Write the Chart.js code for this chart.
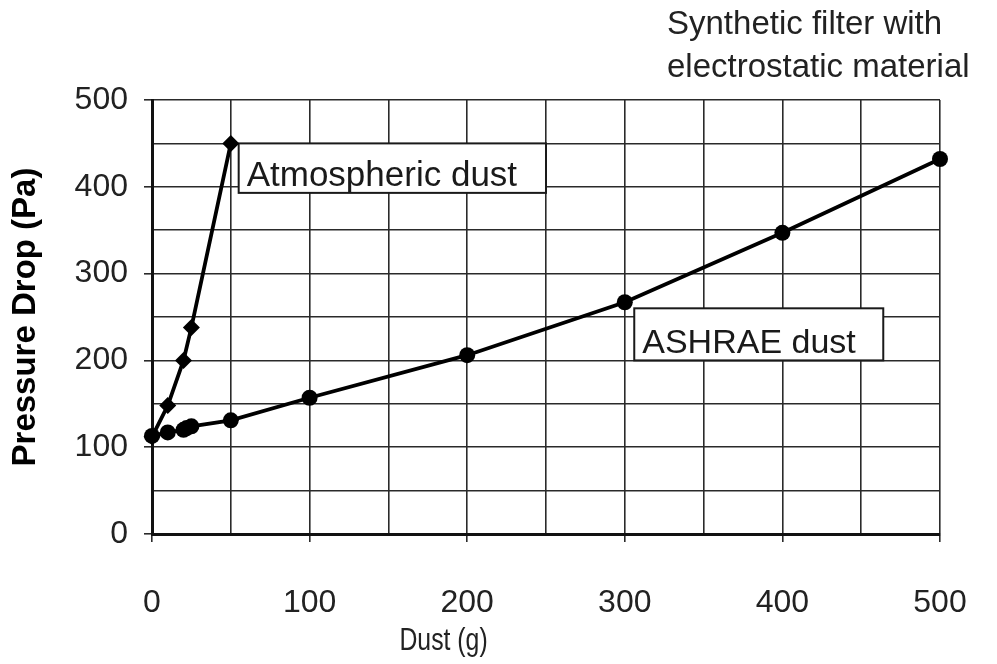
<!DOCTYPE html>
<html>
<head>
<meta charset="utf-8">
<script src="https://cdn.jsdelivr.net/npm/chart.js@4.4.1/dist/chart.umd.min.js"></script>
<style>
  html, body { margin: 0; padding: 0; background: #ffffff; }
  #wrap { width: 997px; height: 664px; }
</style>
</head>
<body>
<div id="wrap"><canvas id="c" width="997" height="664"></canvas></div>
<script>
// ---- data ----
const atmDust = [0, 10, 20, 25, 50];
const atmDrop = [112, 148, 200, 238, 450];
const ashraeDust = [0, 10, 20, 22, 25, 50, 100, 200, 300, 400, 500];
const ashraeDrop = [113, 117, 120, 122, 124, 131, 157, 206, 267, 347, 432];
const xTickValues = [0, 100, 200, 300, 400, 500];
const yTickValues = [0, 100, 200, 300, 400, 500];
const titleLines = ['Synthetic filter with', 'electrostatic material'];
const xTitle = 'Dust (g)';
const yTitle = 'Pressure Drop (Pa)';
const atmLabel = 'Atmospheric dust';
const ashraeLabel = 'ASHRAE dust';
// label boxes in data units: [xMin, xMax, yMin, yMax]
const atmBox = [55, 250, 393, 450];
const ashraeBox = [306, 464, 200, 260];

const FONT = '"Liberation Sans", Arial, Helvetica, sans-serif';
const INK = '#1a1a1a';

function pts(xs, ys) { return xs.map((x, i) => ({ x: x, y: ys[i] })); }

const overlay = {
  id: 'overlay',
  beforeDatasetsDraw(chart) {
    const ctx = chart.ctx, xs = chart.scales.x, ys = chart.scales.y;
    function box(b, text, font) {
      const l = xs.getPixelForValue(b[0]), r = xs.getPixelForValue(b[1]);
      const t = ys.getPixelForValue(b[3]), bt = ys.getPixelForValue(b[2]);
      ctx.save();
      ctx.fillStyle = '#ffffff';
      ctx.fillRect(l, t, r - l, bt - t);
      ctx.strokeStyle = INK;
      ctx.lineWidth = 2;
      ctx.strokeRect(l, t, r - l, bt - t);
      ctx.fillStyle = INK;
      ctx.font = font;
      ctx.textBaseline = 'alphabetic';
      ctx.textAlign = 'left';
      ctx.fillText(text, l + 8, bt - 7);
      ctx.restore();
    }
    box(atmBox, atmLabel, '35px ' + FONT);
    box(ashraeBox, ashraeLabel, '34px ' + FONT);
  },
  afterDraw(chart) {
    const ctx = chart.ctx, area = chart.chartArea;
    ctx.save();
    ctx.fillStyle = '#222';
    ctx.textAlign = 'left';
    ctx.textBaseline = 'alphabetic';
    ctx.font = '33px ' + FONT;
    const tx = 667;
    ctx.fillText(titleLines[0], tx, 34);
    ctx.fillText(titleLines[1], tx, 77);
    // x axis title
    ctx.font = '31px ' + FONT;
    const cx = area.left + (area.right - area.left) * 0.37;
    ctx.translate(cx, 650);
    ctx.scale(0.8, 1);
    ctx.textAlign = 'center';
    ctx.fillText(xTitle, 0, 0);
    ctx.restore();
  }
};

const gridCommon = {
  color: '#2a2a2a',
  lineWidth: 1.6,
  drawTicks: true,
  tickLength: 8,
  tickWidth: 1.6,
  tickColor: (c) => (c.tick && c.tick.value % 100 === 0) ? '#2a2a2a' : 'rgba(0,0,0,0)'
};

new Chart(document.getElementById('c'), {
  type: 'scatter',
  data: {
    datasets: [
      {
        label: ashraeLabel,
        data: pts(ashraeDust, ashraeDrop),
        showLine: true,
        clip: false,
        borderColor: '#000',
        backgroundColor: '#000',
        borderWidth: 3.8,
        pointStyle: 'circle',
        pointRadius: 8,
        pointBorderWidth: 0,
        tension: 0
      },
      {
        label: atmLabel,
        data: pts(atmDust, atmDrop),
        showLine: true,
        clip: false,
        borderColor: '#000',
        backgroundColor: '#000',
        borderWidth: 3.8,
        pointStyle: 'rectRot',
        pointRadius: 8.5,
        pointBorderWidth: 0,
        tension: 0
      }
    ]
  },
  options: {
    responsive: false,
    animation: false,
    devicePixelRatio: 1,
    layout: { padding: { top: 100, right: 57, left: 0, bottom: 0 } },
    plugins: { legend: { display: false }, tooltip: { enabled: false }, title: { display: false } },
    scales: {
      x: {
        type: 'linear',
        min: 0, max: 500,
        afterFit: (s) => { s.height = 130; s.paddingLeft = 0; s.paddingRight = 0; },
        ticks: {
          stepSize: 50,
          autoSkip: false,
          maxRotation: 0,
          padding: 42,
          color: '#222',
          font: { family: FONT, size: 32 },
          callback: (v) => xTickValues.includes(v) ? String(v) : ''
        },
        grid: gridCommon,
        border: { display: true, color: '#111', width: 3 }
      },
      y: {
        type: 'linear',
        min: 0, max: 500,
        afterFit: (s) => { s.width = 152; s.paddingTop = 0; s.paddingBottom = 0; },
        ticks: {
          stepSize: 50,
          autoSkip: false,
          padding: 16,
          color: '#222',
          font: { family: FONT, size: 32 },
          callback: (v) => yTickValues.includes(v) ? String(v) : ''
        },
        grid: gridCommon,
        border: { display: true, color: '#111', width: 3 },
        title: {
          display: true,
          text: yTitle,
          color: '#000',
          font: { family: FONT, size: 33, weight: 'bold' },
          padding: { top: 6, bottom: 0 }
        }
      }
    }
  },
  plugins: [overlay]
});
</script>
</body>
</html>
